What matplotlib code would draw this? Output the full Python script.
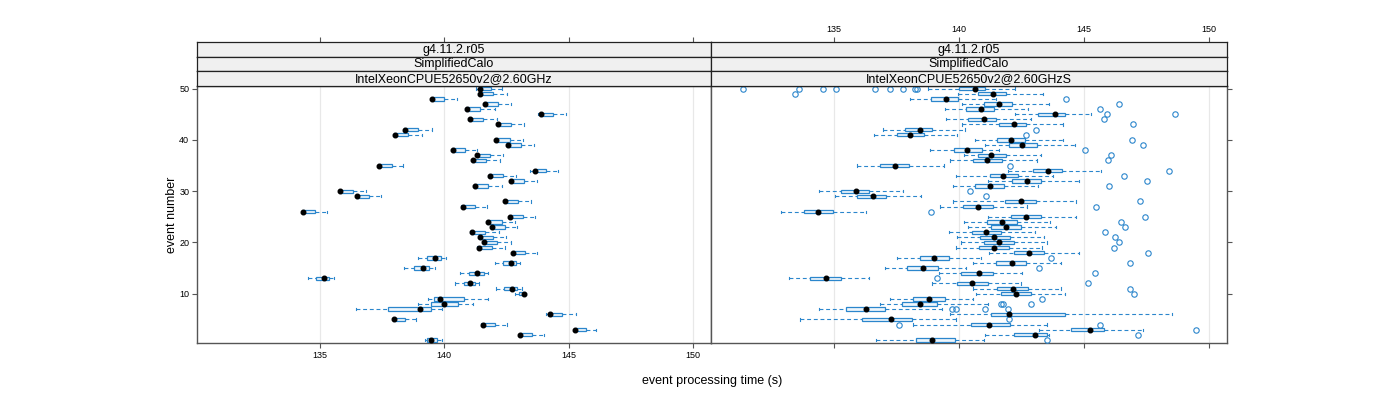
import matplotlib
matplotlib.use('Agg')
import matplotlib.pyplot as plt
from matplotlib.patches import Rectangle

plt.rcParams['font.family'] = ['Liberation Sans', 'DejaVu Sans']

# ---------------- data ----------------
events = list(range(1, 51))
x_ticks = [135, 140, 145, 150]
y_ticks = [10, 20, 30, 40, 50]
strip_row1 = ["g4.11.2.r05", "g4.11.2.r05"]
strip_row2 = ["SimplifiedCalo", "SimplifiedCalo"]
strip_row3 = ["IntelXeonCPUE52650v2@2.60GHz", "IntelXeonCPUE52650v2@2.60GHzS"]

# left panel (IntelXeonCPUE52650v2@2.60GHz)
L_lo = [139.23, 143.02, 145.22, 141.50, 137.96, 144.10, 136.45, 138.97, 139.35, 142.84,
        142.10, 140.44, 134.52, 140.64, 138.39, 142.06, 138.97, 142.73, 141.34, 141.57,
        141.41, 141.06, 141.89, 141.71, 142.60, 134.28, 140.70, 142.41, 136.45, 135.79,
        141.18, 142.65, 141.78, 143.46, 137.35, 141.11, 141.27, 140.29, 142.50, 142.04,
        137.97, 138.38, 142.12, 140.98, 143.78, 140.86, 141.59, 139.47, 141.38, 141.27]
L_q1 = [139.30, 143.05, 145.25, 141.53, 137.99, 144.19, 137.76, 139.48, 139.59, 143.01,
        142.41, 140.80, 134.84, 141.00, 138.79, 142.36, 139.33, 142.76, 141.37, 141.60,
        141.44, 141.09, 141.92, 141.74, 142.63, 134.31, 140.73, 142.44, 136.48, 135.82,
        141.21, 142.68, 141.81, 143.66, 137.38, 141.14, 141.30, 140.32, 142.53, 142.07,
        138.00, 138.41, 142.15, 141.01, 143.85, 140.89, 141.62, 139.50, 141.41, 141.40]
L_med = [139.49, 143.07, 145.27, 141.55, 138.01, 144.24, 139.04, 139.99, 139.82, 143.23,
         142.74, 141.06, 135.16, 141.34, 139.16, 142.67, 139.64, 142.78, 141.39, 141.62,
         141.46, 141.11, 141.94, 141.76, 142.65, 134.33, 140.75, 142.46, 136.50, 135.84,
         141.23, 142.70, 141.83, 143.67, 137.40, 141.16, 141.32, 140.34, 142.55, 142.09,
         138.02, 138.43, 142.17, 141.03, 143.89, 140.91, 141.64, 139.52, 141.43, 141.44]
L_q3 = [139.70, 143.53, 145.70, 142.04, 138.43, 144.75, 139.48, 140.55, 140.80, 143.26,
        142.94, 141.24, 135.37, 141.60, 139.39, 142.90, 139.86, 143.27, 141.91, 142.14,
        141.98, 141.64, 142.45, 142.31, 143.18, 134.81, 141.24, 142.97, 136.98, 136.35,
        141.76, 143.21, 142.35, 144.09, 137.92, 141.68, 141.85, 140.83, 143.08, 142.63,
        138.55, 138.96, 142.69, 141.57, 144.38, 141.44, 142.16, 139.99, 141.95, 141.90]
L_hi = [139.93, 144.00, 146.10, 142.53, 138.89, 145.29, 139.93, 141.16, 141.78, 143.30,
        143.12, 141.42, 135.57, 141.78, 139.63, 143.07, 140.06, 143.73, 142.46, 142.67,
        142.50, 142.21, 142.94, 142.84, 143.66, 135.31, 141.74, 143.48, 137.46, 136.86,
        142.31, 143.73, 142.90, 144.56, 138.37, 142.25, 142.37, 141.33, 143.61, 143.16,
        139.10, 139.52, 143.23, 142.12, 144.88, 142.03, 142.70, 140.53, 142.54, 142.31]
L_out = [[] for _ in events]

# right panel (IntelXeonCPUE52650v2@2.60GHzS)
R_lo = [136.67, 141.06, 143.20, 138.16, 133.65, 139.63, 134.40, 136.83, 137.23, 140.67,
        140.56, 138.94, 133.20, 139.20, 137.06, 140.56, 137.54, 141.20, 139.90, 140.10,
        139.93, 139.60, 140.36, 140.20, 141.16, 132.90, 139.23, 139.76, 135.03, 134.40,
        139.76, 141.16, 139.90, 141.96, 135.94, 139.63, 140.20, 138.83, 141.03, 140.63,
        136.59, 136.96, 140.12, 139.50, 142.23, 139.43, 140.12, 138.03, 139.96, 138.76]
R_q1 = [138.30, 142.20, 144.47, 140.50, 136.12, 141.30, 135.50, 137.72, 138.16, 141.67,
        141.52, 139.92, 134.06, 140.10, 137.92, 141.50, 138.46, 142.20, 140.80, 141.00,
        140.86, 140.54, 141.30, 141.12, 142.10, 133.80, 140.16, 141.86, 135.94, 135.30,
        140.63, 142.14, 141.23, 142.96, 136.86, 140.56, 140.76, 139.79, 142.00, 141.52,
        137.52, 137.83, 141.60, 140.36, 143.16, 140.29, 140.99, 138.90, 140.76, 140.00]
R_med = [138.92, 143.03, 145.26, 141.20, 137.27, 142.00, 136.27, 138.46, 138.80, 142.30,
         142.16, 140.54, 134.67, 140.79, 138.56, 142.12, 139.02, 142.79, 141.39, 141.60,
         141.40, 141.10, 141.90, 141.72, 142.70, 134.38, 140.76, 142.50, 136.56, 135.87,
         141.26, 142.74, 141.76, 143.56, 137.46, 141.14, 141.30, 140.32, 142.54, 142.10,
         138.03, 138.43, 142.19, 141.00, 143.83, 140.90, 141.60, 139.47, 141.36, 140.66]
R_q3 = [139.83, 143.52, 145.80, 142.06, 138.12, 144.23, 137.06, 139.14, 139.46, 142.90,
        142.76, 141.16, 135.27, 141.36, 139.16, 142.70, 139.60, 143.40, 142.00, 142.19,
        142.06, 141.70, 142.50, 142.32, 143.30, 134.96, 141.36, 143.10, 137.10, 136.40,
        141.80, 143.27, 142.36, 144.12, 138.00, 141.74, 141.90, 140.94, 143.12, 142.63,
        138.60, 138.94, 142.70, 141.47, 144.26, 141.39, 142.12, 139.96, 141.90, 141.03]
R_hi = [141.00, 143.60, 147.36, 143.52, 139.90, 148.52, 139.32, 141.16, 140.56, 144.26,
        144.07, 142.47, 136.40, 142.54, 140.30, 144.07, 140.90, 144.80, 143.32, 143.52,
        143.40, 143.03, 143.87, 143.63, 144.70, 136.27, 142.74, 144.70, 138.50, 137.76,
        143.16, 144.79, 143.76, 145.70, 139.40, 143.12, 143.30, 141.60, 144.63, 144.16,
        139.92, 140.23, 144.16, 142.90, 145.30, 142.76, 143.60, 141.50, 143.36, 142.23]
R_out = [[143.52], [147.16], [149.47], [137.60, 145.66], [142.00], [],
         [139.74, 139.90, 141.06, 141.96], [141.70, 141.76, 142.90], [143.34], [146.99],
         [146.86], [145.16], [139.14], [145.43], [143.20], [146.86], [143.70], [147.56],
         [146.19], [146.39], [146.23], [145.85], [146.63], [146.50], [147.45], [138.87],
         [145.50], [147.23], [141.07], [140.43], [146.00], [147.52], [146.59], [148.39],
         [142.05], [145.96], [146.10], [145.04], [147.36], [146.94], [142.70], [143.07],
         [146.96], [145.79], [145.94, 148.66], [145.63], [146.39], [144.27], [133.43],
         [131.36, 133.60, 134.56, 135.10, 136.63, 137.23, 137.76, 138.23, 138.32]]

panels = [
    (L_lo, L_q1, L_med, L_q3, L_hi, L_out),
    (R_lo, R_q1, R_med, R_q3, R_hi, R_out),
]

# ---------------- layout ----------------
W, H = 1400, 400
fig = plt.figure(figsize=(W / 100, H / 100), dpi=100)


def fx(px):
    return px / W


def fy(py):
    return 1 - py / H


panel_x = [(197, 711), (711, 1227)]
panel_top, panel_bot = 85.5, 343
strip_edges = [42, 56.5, 71, 85.5]
XLIM = (130.08, 150.72)
YLIM = (0.4, 50.6)
BLUE = '#2b86cc'
AXCOL = '#555555'
BOXH = 0.65
CAPH = 0.22

for p, ((x0, x1), data) in enumerate(zip(panel_x, panels)):
    lo, q1, med, q3, hi, outs = data
    ax = fig.add_axes([fx(x0), fy(panel_bot), (x1 - x0) / W, (panel_bot - panel_top) / H])
    ax.set_xlim(*XLIM)
    ax.set_ylim(*YLIM)
    for xt in x_ticks:
        ax.axvline(xt, color='#e8e8e8', lw=0.9, zorder=0)
    for i, y in enumerate(events):
        ax.plot([lo[i], q1[i]], [y, y], color=BLUE, lw=0.8, ls=(0, (3.5, 2.5)), zorder=2)
        ax.plot([q3[i], hi[i]], [y, y], color=BLUE, lw=0.8, ls=(0, (3.5, 2.5)), zorder=2)
        for xe in (lo[i], hi[i]):
            ax.plot([xe, xe], [y - CAPH, y + CAPH], color=BLUE, lw=0.8, zorder=2)
        ax.add_patch(Rectangle((q1[i], y - BOXH / 2), q3[i] - q1[i], BOXH,
                               facecolor='#eef6fc', edgecolor=BLUE, lw=0.9, zorder=3))
        if outs[i]:
            ax.plot(outs[i], [y] * len(outs[i]), 'o', mfc='none', mec=BLUE,
                    ms=3.9, mew=0.8, zorder=3)
        ax.plot([med[i]], [y], 'o', color='black', ms=3.3, zorder=4)
    for s in ax.spines.values():
        s.set_color(AXCOL)
        s.set_linewidth(1.0)
    ax.set_xticks(x_ticks)
    ax.set_yticks(y_ticks)
    ax.tick_params(direction='out', length=3.6, width=0.8, color=AXCOL,
                   labelsize=6.5, pad=2)
    if p == 0:
        ax.tick_params(axis='x', bottom=True, labelbottom=True, top=False)
        ax.tick_params(axis='y', left=True, labelleft=True, right=False)
    else:
        ax.tick_params(axis='x', bottom=True, labelbottom=False, top=False)
        ax.tick_params(axis='y', left=False, labelleft=False, right=True, labelright=False)

    labels = [strip_row1[p], strip_row2[p], strip_row3[p]]
    for k in range(3):
        t, b = strip_edges[k], strip_edges[k + 1]
        sax = fig.add_axes([fx(x0), fy(b), (x1 - x0) / W, (b - t) / H])
        sax.set_facecolor('#f0f0f0')
        sax.set_xlim(*XLIM)
        sax.set_ylim(0, 1)
        sax.set_yticks([])
        for s in sax.spines.values():
            s.set_color('#222222')
            s.set_linewidth(0.9)
        sax.text(0.5, 0.45, labels[k], transform=sax.transAxes, ha='center',
                 va='center', fontsize=9)
        if k == 0:
            sax.set_xticks(x_ticks)
            sax.xaxis.tick_top()
            sax.tick_params(axis='x', direction='out', length=3.6, width=0.8,
                            color=AXCOL, labelsize=6.5, pad=2,
                            labeltop=(p == 1), top=True, bottom=False, labelbottom=False)
        else:
            sax.set_xticks([])

fig.text(fx(712), fy(381), 'event processing time (s)', ha='center', va='center', fontsize=9)
fig.text(fx(172), fy(215), 'event number', ha='center', va='center', rotation=90, fontsize=9)

fig.savefig('out.png', dpi=100)
